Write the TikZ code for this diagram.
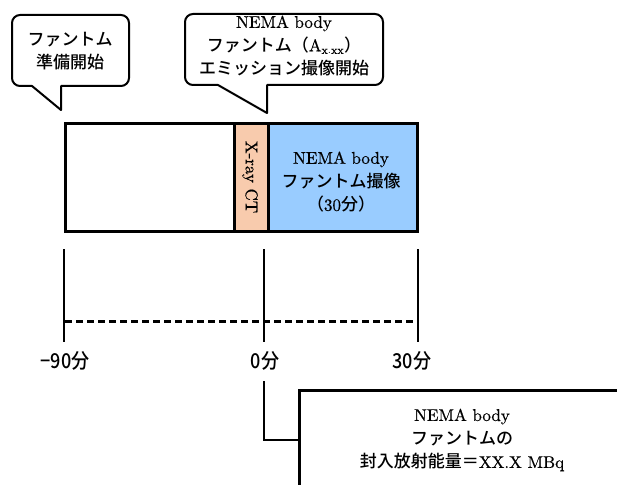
\documentclass[tikz,border=0pt]{standalone}
\usepackage{fontspec}
\setmainfont{lmroman10-regular}[Extension=.otf, FakeBold=0.6]
\newfontfamily\jp{Noto Sans CJK JP}[UprightFont={* Medium}]
\newfontfamily\jpax{Noto Sans CJK JP}[UprightFont={* Medium}, FakeStretch=0.88]
\definecolor{ctorange}{HTML}{F8CBAD}
\definecolor{petblue}{HTML}{99CCFF}
\newcommand\J[1]{{\jp #1}}
\begin{document}
\begin{tikzpicture}[x=1pt,y=1pt,
  txt/.style={align=center, font=\fontsize{17}{23.5}\selectfont, inner sep=0pt},
  balloon/.style={draw=black, line width=2pt, fill=white, line join=round},
  seg/.style={draw=black, line width=3pt, minimum height=108pt, inner sep=0pt, anchor=west},
  tickline/.style={line width=2pt},
  axlab/.style={font=\jpax\fontsize{20.5}{24}\selectfont, inner sep=0pt}]
\useasboundingbox (0,0) rectangle (617,-484);

% callout 1
\draw[balloon] (32,-86) -- (61,-110) -- (61,-86) -- (121,-86)
  arc[start angle=-90,end angle=0,radius=8] -- (129,-23)
  arc[start angle=0,end angle=90,radius=8] -- (20,-15)
  arc[start angle=90,end angle=180,radius=8] -- (12,-78)
  arc[start angle=180,end angle=270,radius=8] -- cycle;
\node[txt] (c1text) at (70,-51) {\J{ファントム}\\\J{準備開始}};

% callout 2
\draw[balloon] (218,-85) -- (267,-113) -- (267,-85) -- (375,-85)
  arc[start angle=-90,end angle=0,radius=8] -- (383,-22)
  arc[start angle=0,end angle=90,radius=8] -- (193,-14)
  arc[start angle=90,end angle=180,radius=8] -- (185,-77)
  arc[start angle=180,end angle=270,radius=8] -- cycle;
\node[txt] (c2text) at (284,-46) {NEMA body\\\J{ファントム（}$\mathrm{A}_{\mathrm{x.xx}}$\J{）}\\\J{エミッション撮像開始}};

% bar
\node[seg, fill=white, minimum width=169pt] (prep) at (64,-177) {};
\node[seg, fill=ctorange, minimum width=34pt] (ct) at (233,-177) {};
\node[seg, fill=petblue, minimum width=149pt] (pet) at (267,-177) {};
\node[txt, rotate=-90] (cttext) at (250,-177) {X-ray CT};
\node[txt] (pettext) at (341,-182) {NEMA body\\\J{ファントム撮像}\\\J{（}30\J{分）}};

% time axis
\draw[tickline] (64,-249) -- (64,-342);
\draw[tickline] (264,-249) -- (264,-342);
\draw[tickline] (418,-249) -- (418,-342);
\draw[line width=3pt, dash pattern=on 7pt off 4pt] (65,-321) -- (417,-321);
\node[axlab] (l90) at (65,-361) {−90分};
\node[axlab] (l0) at (265,-361) {0分};
\node[axlab] (l30) at (412,-361) {30分};

% activity box
\node[txt, draw=black, line width=3pt, minimum width=326pt, minimum height=100pt] (nbox) at (462,-440)
  {NEMA body\\\J{ファントムの}\\\J{封入放射能量＝}XX.X MBq};
\coordinate (c0) at (264,-381);
\draw[tickline] (c0) |- (nbox.west);
\end{tikzpicture}
\end{document}
